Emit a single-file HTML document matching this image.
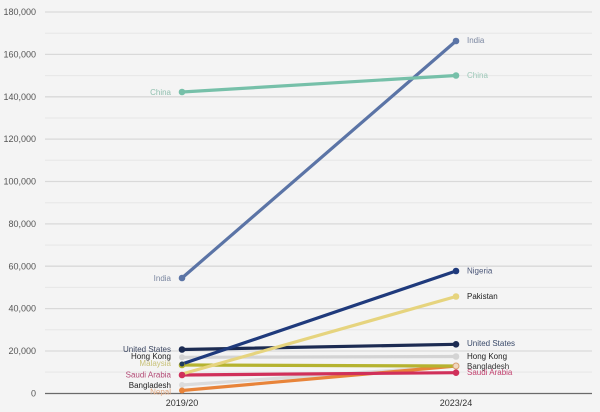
<!DOCTYPE html>
<html><head><meta charset="utf-8"><style>
html,body{margin:0;padding:0;background:#f4f4f4;}
svg{display:block;}
text{font-family:"Liberation Sans",Arial,sans-serif;}
</style></head><body>
<svg width="600" height="412" viewBox="0 0 600 412" xmlns="http://www.w3.org/2000/svg">
<rect width="600" height="412" fill="#f4f4f4"/>
<g stroke="#e6e6e6" stroke-width="1">
<line x1="45" x2="592" y1="372.1" y2="372.1"/>
<line x1="45" x2="592" y1="329.8" y2="329.8"/>
<line x1="45" x2="592" y1="287.4" y2="287.4"/>
<line x1="45" x2="592" y1="245.1" y2="245.1"/>
<line x1="45" x2="592" y1="202.7" y2="202.7"/>
<line x1="45" x2="592" y1="160.3" y2="160.3"/>
<line x1="45" x2="592" y1="118" y2="118"/>
<line x1="45" x2="592" y1="75.6" y2="75.6"/>
<line x1="45" x2="592" y1="33.2" y2="33.2"/>
</g>
<g stroke="#d9d9d9" stroke-width="1.3">
<line x1="45" x2="592" y1="351" y2="351"/>
<line x1="45" x2="592" y1="308.6" y2="308.6"/>
<line x1="45" x2="592" y1="266.2" y2="266.2"/>
<line x1="45" x2="592" y1="223.9" y2="223.9"/>
<line x1="45" x2="592" y1="181.5" y2="181.5"/>
<line x1="45" x2="592" y1="139.1" y2="139.1"/>
<line x1="45" x2="592" y1="96.8" y2="96.8"/>
<line x1="45" x2="592" y1="54.4" y2="54.4"/>
<line x1="45" x2="592" y1="12" y2="12"/>
</g>
<line x1="45" x2="592" y1="393.5" y2="393.5" stroke="#6a6a6a" stroke-width="1.2"/>
<g font-size="9" fill="#555" text-anchor="end">
<text x="36" y="15">180,000</text>
<text x="36" y="57.5">160,000</text>
<text x="36" y="100">140,000</text>
<text x="36" y="142">120,000</text>
<text x="36" y="184.5">100,000</text>
<text x="36" y="227">80,000</text>
<text x="36" y="269.5">60,000</text>
<text x="36" y="311.5">40,000</text>
<text x="36" y="354">20,000</text>
<text x="36" y="396.5">0</text>
</g>
<g font-size="9" fill="#333" text-anchor="middle">
<text x="182" y="406">2019/20</text>
<text x="456" y="406">2023/24</text>
</g>
<g stroke-width="3.2" stroke-linecap="round">
<line x1="182" y1="385" x2="456" y2="366" stroke="#dcdcdc"/>
<line x1="182" y1="390.5" x2="456" y2="366" stroke="#e8843a"/>
<line x1="182" y1="365" x2="456" y2="366" stroke="#b5b330"/>
<line x1="182" y1="375" x2="456" y2="372.7" stroke="#d0305a"/>
<line x1="182" y1="357.3" x2="456" y2="356.5" stroke="#d4d4d4"/>
<line x1="182" y1="349.5" x2="456" y2="344.3" stroke="#1c2b52"/>
<line x1="182" y1="374" x2="456" y2="296.5" stroke="#e6d47e"/>
<line x1="182" y1="364" x2="456" y2="271" stroke="#1f3a7c"/>
<line x1="182" y1="278" x2="456" y2="41" stroke="#5b74a6"/>
<line x1="182" y1="92" x2="456" y2="75.5" stroke="#76c0a9"/>
</g>
<g>
<circle cx="182" cy="385" r="3" fill="#dcdcdc"/>
<circle cx="182" cy="390.5" r="3" fill="#e8843a"/>
<circle cx="456" cy="366" r="3" fill="#f0d8c0" stroke="#d8a070" stroke-width="1"/>
<circle cx="182" cy="365" r="3.3" fill="#b5b330"/>
<circle cx="182" cy="364" r="2.5" fill="#1f3a5c"/>
<circle cx="182" cy="375" r="3.3" fill="#d0305a"/>
<circle cx="456" cy="372.7" r="3.3" fill="#d0305a"/>
<circle cx="182" cy="357.3" r="3" fill="#d4d4d4"/>
<circle cx="456" cy="356.5" r="3.3" fill="#d4d4d4"/>
<circle cx="182" cy="349.5" r="3.3" fill="#1c2b52"/>
<circle cx="456" cy="344.3" r="3.3" fill="#1c2b52"/>
<circle cx="456" cy="296.5" r="3.3" fill="#e6d47e"/>
<circle cx="456" cy="271" r="3.3" fill="#1f3a7c"/>
<circle cx="182" cy="278" r="3.3" fill="#5b74a6"/>
<circle cx="456" cy="41" r="3.3" fill="#5b74a6"/>
<circle cx="182" cy="92" r="3.3" fill="#76c0a9"/>
<circle cx="456" cy="75.5" r="3.3" fill="#76c0a9"/>
</g>
<g font-size="8" text-anchor="end">
<text x="171" y="95" fill="#8fbfae">China</text>
<text x="171" y="281" fill="#7a86a0">India</text>
<text x="171" y="352" fill="#3a4560">United States</text>
<text x="171" y="359" fill="#222">Hong Kong</text>
<text x="171" y="366" fill="#c9c27a">Malaysia</text>
<text x="171" y="377.5" fill="#b24874">Saudi Arabia</text>
<text x="171" y="388" fill="#222">Bangladesh</text>
<text x="171" y="394.5" fill="#e0a880">Nepal</text>
</g>
<g font-size="8">
<text x="467" y="43" fill="#7a86a0">India</text>
<text x="467" y="78" fill="#9cc8b8">China</text>
<text x="467" y="273.5" fill="#4a5678">Nigeria</text>
<text x="467" y="299" fill="#222">Pakistan</text>
<text x="467" y="346" fill="#3a4a6a">United States</text>
<text x="467" y="359" fill="#222">Hong Kong</text>
<text x="467" y="369" fill="#333">Bangladesh</text>
<text x="467" y="375" fill="#c2406e">Saudi Arabia</text>
</g>
</svg>
</body></html>
